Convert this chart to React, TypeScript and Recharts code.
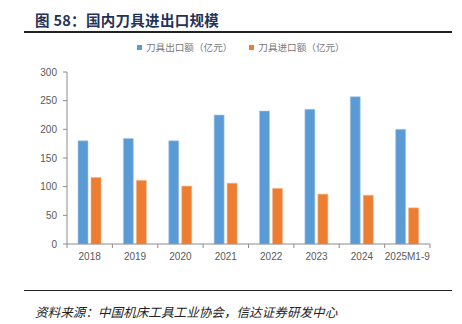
import React from "react";
import { BarChart, Bar, XAxis, YAxis } from "recharts";

const years = ["2018", "2019", "2020", "2021", "2022", "2023", "2024", "2025M1-9"];
const exportValues = [180, 184, 180, 225, 232, 235, 257, 200];
const importValues = [116, 111, 101, 106, 97, 87, 85, 63];
const yTicks = [0, 50, 100, 150, 200, 250, 300];
const exportName = "刀具出口额（亿元）";
const importName = "刀具进口额（亿元）";

const data = years.map((y, i) => ({ year: y, exp: exportValues[i], imp: importValues[i] }));

const BAND = (430 - 67) / years.length;
const AXIS_COLOR = "#8c8c8c";
const LABEL_COLOR = "#595959";
const NUM_FONT = "'Liberation Sans', Arial, sans-serif";
const CJK_FONT = "'Noto Sans CJK SC', sans-serif";

const XTick = (props: any) => {
  const { x, y, payload, index, visibleTicksCount } = props;
  const left = x - BAND / 2;
  const right = x + BAND / 2;
  return (
    <g>
      <line x1={left} x2={left} y1={y} y2={y + 4} stroke={AXIS_COLOR} strokeWidth={1} />
      {index === visibleTicksCount - 1 && (
        <line x1={right} x2={right} y1={y} y2={y + 4} stroke={AXIS_COLOR} strokeWidth={1} />
      )}
      <text x={x} y={y + 15.5} textAnchor="middle" fill={LABEL_COLOR} fontSize={10} fontFamily={NUM_FONT}>
        {payload.value}
      </text>
    </g>
  );
};

export default function App() {
  return (
    <div style={{ position: "absolute", left: 0, top: 0, width: 462, height: 324, background: "#fff", overflow: "hidden" }}>
      <div
        style={{
          position: "absolute",
          left: 35,
          top: 11,
          fontFamily: CJK_FONT,
          fontWeight: 700,
          fontSize: 14.5,
          color: "#1f3458",
          whiteSpace: "nowrap",
          lineHeight: "18px",
          letterSpacing: 0.3,
        }}
      >
        图 58：国内刀具进出口规模
      </div>
      <div style={{ position: "absolute", left: 24, top: 31, width: 428, height: 1.5, background: "#222" }} />

      <div
        style={{
          position: "absolute",
          left: 137,
          top: 40,
          display: "flex",
          fontFamily: CJK_FONT,
          fontSize: 9.6,
          color: "#777",
          lineHeight: "14px",
          whiteSpace: "nowrap",
        }}
      >
        <div style={{ display: "flex", alignItems: "center" }}>
          <span style={{ display: "inline-block", width: 5, height: 5, background: "#5b9bd5", marginRight: 4 }} />
          {exportName}
        </div>
        <div style={{ display: "flex", alignItems: "center", marginLeft: 17 }}>
          <span style={{ display: "inline-block", width: 5, height: 5, background: "#ed7d31", marginRight: 4 }} />
          {importName}
        </div>
      </div>

      <div style={{ position: "absolute", left: 0, top: 0 }}>
        <BarChart
          width={462}
          height={324}
          data={data}
          margin={{ top: 72, right: 32, bottom: 50, left: 0 }}
          barSize={10}
          barGap={3}
        >
          <YAxis
            width={67}
            domain={[0, 300]}
            ticks={yTicks}
            interval={0}
            axisLine={{ stroke: AXIS_COLOR }}
            tickLine={{ stroke: AXIS_COLOR }}
            tickSize={4}
            tickMargin={6}
            tick={{ fill: LABEL_COLOR, fontSize: 10, fontFamily: NUM_FONT }}
          />
          <XAxis
            dataKey="year"
            height={30}
            interval={0}
            axisLine={{ stroke: AXIS_COLOR }}
            tickLine={false}
            tickSize={0}
            tickMargin={0}
            tick={<XTick />}
          />
          <Bar dataKey="exp" name={exportName} fill="#5b9bd5" stroke="#a9cbeb" strokeWidth={0.6} isAnimationActive={false} />
          <Bar dataKey="imp" name={importName} fill="#ed7d31" stroke="#f5b48a" strokeWidth={0.6} isAnimationActive={false} />
        </BarChart>
      </div>

      <div style={{ position: "absolute", left: 24, top: 289.5, width: 428, height: 1.5, background: "#222" }} />
      <div
        style={{
          position: "absolute",
          left: 35,
          top: 303,
          fontFamily: CJK_FONT,
          fontStyle: "italic",
          fontSize: 12.6,
          color: "#222",
          whiteSpace: "nowrap",
          lineHeight: "17px",
        }}
      >
        资料来源：中国机床工具工业协会，信达证券研发中心
      </div>
    </div>
  );
}
